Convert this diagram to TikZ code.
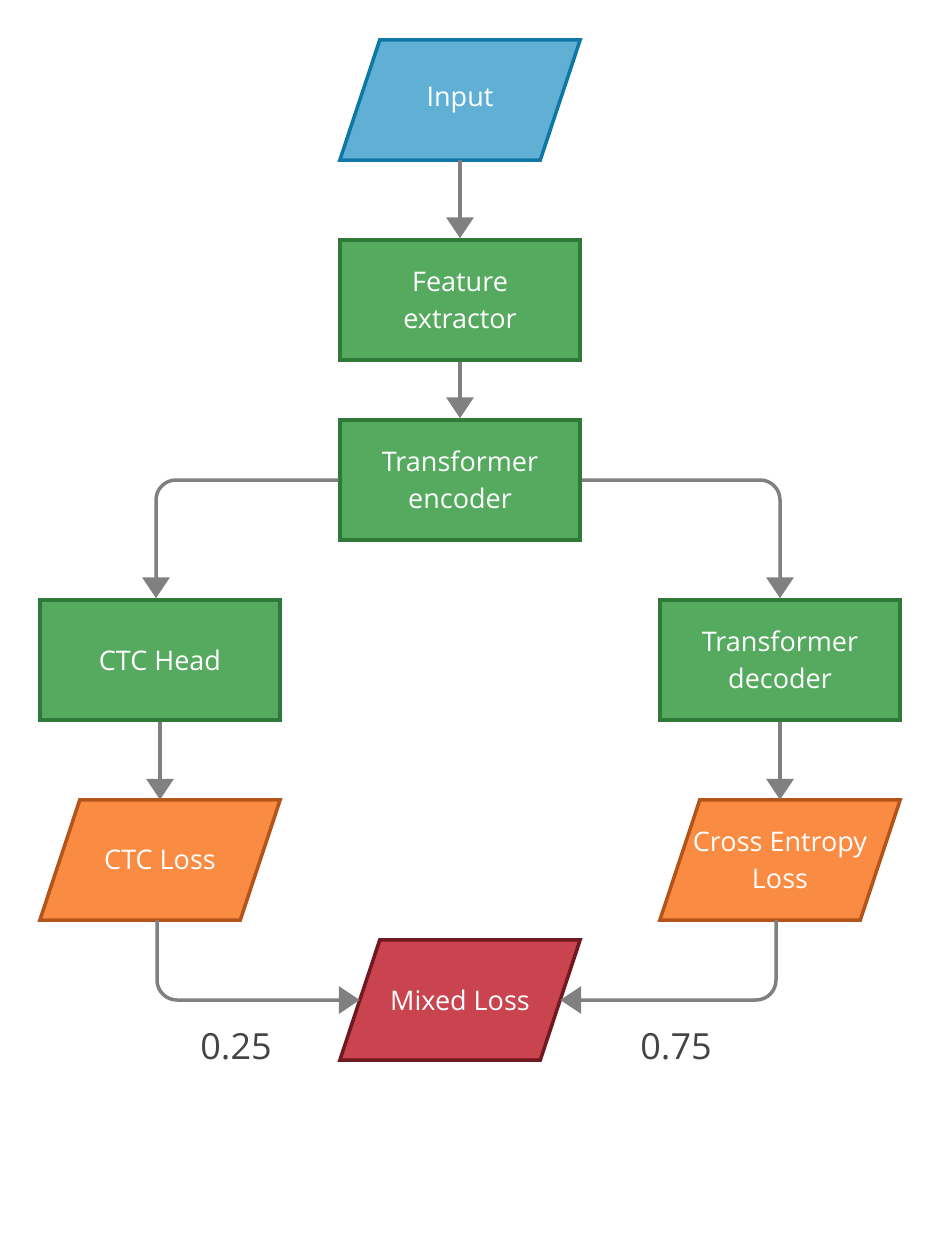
\documentclass[tikz,border=0pt]{standalone}
\usepackage{fontspec}
\setmainfont{Open Sans}
\usetikzlibrary{arrows.meta,backgrounds,calc}
\definecolor{inFill}{HTML}{60B0D6}
\definecolor{inLine}{HTML}{0F77A6}
\definecolor{grFill}{HTML}{55AA60}
\definecolor{grLine}{HTML}{2F7A38}
\definecolor{orFill}{HTML}{F98B42}
\definecolor{orLine}{HTML}{B5541A}
\definecolor{rdFill}{HTML}{C9444E}
\definecolor{rdLine}{HTML}{6E1A20}
\definecolor{arrGray}{HTML}{808080}
\definecolor{lblGray}{HTML}{444444}
\tikzset{
  box/.style={minimum width=240pt, minimum height=120pt, inner sep=0pt, align=center,
    text=white, font=\fontsize{27}{37}\selectfont},
  greenbox/.style={box, draw=grLine, fill=grFill, line width=3.5pt},
  parabox/.style={box},
  conn/.style={draw=arrGray, line width=3.5pt, rounded corners=20pt,
    -{Triangle[width=27pt,length=21pt]}},
  lbl/.style={text=lblGray, font=\fontsize{36}{40}\selectfont, inner sep=0pt},
  paraline/.style={line width=3.5pt, line join=miter},
}
\newcommand{\drawpara}[3]{%
  \begin{pgfonlayer}{background}
  \draw[paraline, draw=#2, fill=#3] ([xshift=40pt]#1.north west) -- (#1.north east)
    -- ([xshift=-40pt]#1.south east) -- (#1.south west) -- cycle;
  \end{pgfonlayer}}
\begin{document}
\begin{tikzpicture}[x=1pt,y=-1pt]
\begin{pgfonlayer}{background}
\fill[white] (0,0) rectangle (941,1252);
\end{pgfonlayer}
\useasboundingbox (0,0) rectangle (941,1252);
\node[parabox] (in) at (460,100) {Input};
\node[greenbox] (fe) at (460,300) {Feature\\extractor};
\node[greenbox] (enc) at (460,480) {Transformer\\encoder};
\node[greenbox] (ctc) at (160,660) {CTC Head};
\node[greenbox] (dec) at (780,660) {Transformer\\decoder};
\node[parabox] (ctcl) at (160,860) {CTC Loss};
\node[parabox] (cel) at (780,860) {Cross Entropy\\Loss};
\node[parabox] (ml) at (460,1000) {Mixed Loss};
\drawpara{in}{inLine}{inFill}
\drawpara{ctcl}{orLine}{orFill}
\drawpara{cel}{orLine}{orFill}
\drawpara{ml}{rdLine}{rdFill}
\node[lbl] (l1) at (236,1047) {0.25};
\node[lbl] (l2) at (676,1047) {0.75};
\draw[conn] (in.south) -- (fe.north);
\draw[conn] (fe.south) -- (enc.north);
\draw[conn] (enc.west) -| ([xshift=-4pt]ctc.north);
\draw[conn] (enc.east) -| (dec.north);
\draw[conn] (ctc.south) -- (ctcl.north);
\draw[conn] (dec.south) -- (cel.north);
\draw[conn] ([xshift=-3pt]ctcl.south) |- ([xshift=20pt]ml.west);
\draw[conn] ([xshift=-4pt]cel.south) |- ([xshift=-20pt]ml.east);
\end{tikzpicture}
\end{document}
